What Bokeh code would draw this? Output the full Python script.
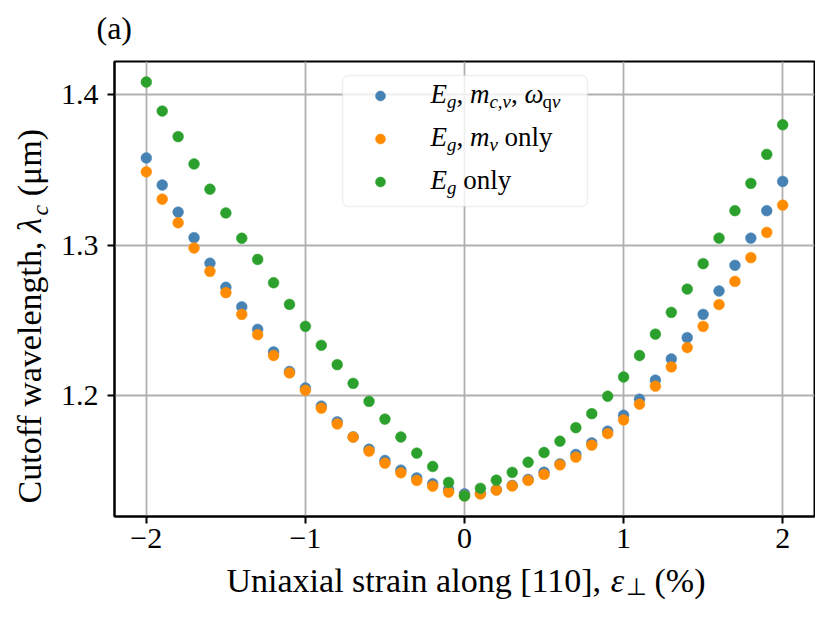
import math
from bokeh.plotting import figure
from bokeh.layouts import column, row
from bokeh.models import (Label, Legend, LegendItem, FixedTicker, Range1d,
                          ColumnDataSource, BoxAnnotation)
from bokeh.embed import file_html
from bokeh.resources import INLINE

# ---------------- data ----------------
strain = [-2.0, -1.9, -1.8, -1.7, -1.6, -1.5, -1.4, -1.3, -1.2, -1.1, -1.0,
          -0.9, -0.8, -0.7, -0.6, -0.5, -0.4, -0.3, -0.2, -0.1, 0.0,
          0.1, 0.2, 0.3, 0.4, 0.5, 0.6, 0.7, 0.8, 0.9, 1.0,
          1.1, 1.2, 1.3, 1.4, 1.5, 1.6, 1.7, 1.8, 1.9, 2.0]

lam_full = [1.358, 1.340, 1.322, 1.305, 1.288, 1.272, 1.259, 1.244, 1.229, 1.216, 1.205,
            1.193, 1.1825, 1.1725, 1.1643, 1.1568, 1.1504, 1.1452, 1.1413, 1.1375, 1.1346,
            1.1348, 1.1374, 1.1402, 1.1442, 1.149, 1.1545, 1.1608, 1.1685, 1.1763, 1.1869,
            1.1975, 1.2102, 1.2243, 1.2385, 1.254, 1.2695, 1.2866, 1.3047, 1.3229, 1.3424]

lam_mv = [1.3488, 1.3306, 1.3149, 1.2981, 1.2826, 1.2684, 1.254, 1.2405, 1.2266, 1.215, 1.2035,
          1.1916, 1.1811, 1.1723, 1.163, 1.155, 1.1486, 1.1435, 1.1397, 1.1357, 1.1333,
          1.1345, 1.1371, 1.1398, 1.1435, 1.1475, 1.1539, 1.159, 1.167, 1.1747, 1.1838,
          1.1942, 1.2062, 1.219, 1.2319, 1.246, 1.2605, 1.2759, 1.2917, 1.3085, 1.3266]

lam_eg = [1.4085, 1.3892, 1.3722, 1.354, 1.3372, 1.3214, 1.3046, 1.2905, 1.275, 1.2606, 1.246,
          1.2334, 1.2205, 1.2081, 1.1961, 1.1843, 1.1724, 1.1617, 1.1528, 1.1422, 1.1332,
          1.1383, 1.1437, 1.1489, 1.1556, 1.1621, 1.1696, 1.1786, 1.1879, 1.1995, 1.2123,
          1.2266, 1.2408, 1.2553, 1.2708, 1.2877, 1.3047, 1.3229, 1.3411, 1.3604, 1.3801]

x_ticks = [-2, -1, 0, 1, 2]
x_tick_labels = {-2: "\u22122", -1: "\u22121", 0: "0", 1: "1", 2: "2"}
y_ticks = [1.2, 1.3, 1.4]

FONT = "Liberation Serif"

# ---------------- layout sizes ----------------
TOTAL_W, TOTAL_H = 815, 603
TOP_H, BOT_H, LEFT_W = 50, 41, 56
MAIN_W, MAIN_H = TOTAL_W - LEFT_W, TOTAL_H - TOP_H - BOT_H


def no_align(f):
    if "frame_align" in f.properties():
        f.frame_align = False
    return f


def text_fig(w, h):
    f = figure(width=w, height=h, output_backend="svg", toolbar_location=None,
               x_range=Range1d(0, 1), y_range=Range1d(0, 1),
               x_axis_type=None, y_axis_type=None, min_border=0,
               min_border_left=0, min_border_right=0, min_border_top=0, min_border_bottom=0)
    f.outline_line_color = None
    f.background_fill_color = "white"
    f.border_fill_color = "white"
    return no_align(f)


top = text_fig(TOTAL_W, TOP_H)
left = text_fig(LEFT_W, MAIN_H)
bottom = text_fig(TOTAL_W, BOT_H)

# ---------------- main figure ----------------
p = figure(width=MAIN_W, height=MAIN_H, output_backend="svg", toolbar_location=None,
           x_range=Range1d(-2.2, 2.2), y_range=Range1d(1.11952, 1.42215),
           min_border_left=58, min_border_right=1, min_border_top=11, min_border_bottom=46)
no_align(p)
p.background_fill_color = "white"
p.border_fill_color = "white"
p.outline_line_color = "black"
p.outline_line_width = 2

p.xaxis.ticker = FixedTicker(ticks=x_ticks)
p.yaxis.ticker = FixedTicker(ticks=y_ticks)
p.xaxis.major_label_overrides = x_tick_labels
for ax in (p.xaxis, p.yaxis):
    ax.axis_line_color = "black"
    ax.axis_line_width = 2
    ax.major_tick_line_color = "black"
    ax.major_tick_line_width = 2
    ax.major_tick_out = 7
    ax.major_tick_in = 0
    ax.minor_tick_line_color = None
    ax.major_label_text_font = FONT
    ax.major_label_text_font_size = "30px"
    ax.major_label_text_color = "black"
p.xaxis.major_label_standoff = 5
p.yaxis.major_label_standoff = 9

p.grid.grid_line_color = "#b0b0b0"
p.grid.grid_line_width = 1.8

# legend frame (translucent white box with light border, behind the legend texts)
LX, LB, LW, LH = 228, 310, 245, 131
box = BoxAnnotation(left=LX, right=LX + LW, bottom=LB, top=LB + LH,
                    left_units="screen", right_units="screen",
                    bottom_units="screen", top_units="screen",
                    fill_color="white", fill_alpha=0.8,
                    line_color="#cccccc", line_width=1.5, level="underlay")
if "border_radius" in box.properties():
    box.border_radius = 6
p.add_layout(box)

src = ColumnDataSource(dict(x=strain, full=lam_full, mv=lam_mv, eg=lam_eg))
r1 = p.scatter("x", "full", source=src, size=10.8, fill_color="#4682b4", line_color="#4682b4", line_width=0.5)
r2 = p.scatter("x", "mv", source=src, size=10.8, fill_color="#ff8c00", line_color="#ff8c00", line_width=0.5)
r3 = p.scatter("x", "eg", source=src, size=10.8, fill_color="#2ca02c", line_color="#2ca02c", line_width=0.5)

legend = Legend(items=[LegendItem(label=" ", renderers=[r1]),
                       LegendItem(label=" ", renderers=[r2]),
                       LegendItem(label=" ", renderers=[r3])],
                location=(LX, LB + 2), padding=10, spacing=18, margin=0,
                glyph_width=56, glyph_height=25, label_standoff=23,
                label_width=146, label_height=25, label_text_font_size="8px",
                border_line_color="#cccccc", border_line_alpha=0.0,
                background_fill_alpha=0.0)
p.add_layout(legend)

# ---------------- rich text helpers ----------------
REG = {' ': 0.25, ',': 0.25, '.': 0.25, '(': 0.333, ')': 0.333, '[': 0.333, ']': 0.333,
       '%': 0.833, '0': 0.5, '1': 0.5, 'C': 0.667, 'U': 0.722, 'a': 0.444, 'c': 0.444,
       'e': 0.444, 'f': 0.333, 'g': 0.5, 'h': 0.5, 'i': 0.278, 'l': 0.278, 'm': 0.778,
       'n': 0.5, 'o': 0.5, 'q': 0.5, 'r': 0.333, 's': 0.389, 't': 0.278, 'u': 0.5,
       'v': 0.5, 'w': 0.722, 'x': 0.5, 'y': 0.5, '\u03bc': 0.55, '\u22a5': 0.85}
ITA = {'E': 0.611, 'g': 0.5, 'm': 0.722, 'c': 0.444, 'v': 0.444, ',': 0.25,
       '\u03c9': 0.667, '\u03bd': 0.444, '\u03bb': 0.5, '\u03b5': 0.44}


def text_w(text, italic):
    tbl = ITA if italic else REG
    return sum(tbl.get(ch, 0.5) for ch in text)


def runs_width(runs, size):
    return sum(text_w(r[0], r[1]) * (size * 0.7 if r[2] else size) for r in runs)


def add_runs(fig, runs, x0, yc, size, angle=0.0, level="annotation"):
    """Draw text runs; (x0, yc) = start of the line at the middle of the main font."""
    adv = 0.0
    for r in runs:
        text, italic, sub = r[0], r[1], r[2]
        sub_shift = r[3] if len(r) > 3 else 0.2
        s = size * 0.7 if sub else size
        down = (0.3375 * (size - s) + sub_shift * size) if sub else 0.0
        lead = len(text) - len(text.lstrip(" "))
        body = text.strip(" ")
        a0 = adv + lead * REG[" "] * s
        if angle == 0.0:
            x, y = x0 + a0, yc - down
        else:
            x, y = x0 + down, yc + a0
        fig.add_layout(Label(x=x, y=y, x_units="screen", y_units="screen", text=body,
                             text_font=FONT, text_font_size=f"{s:.1f}px",
                             text_font_style="italic" if italic else "normal",
                             text_align="left", text_baseline="middle",
                             angle=angle, text_color="black", level=level))
        adv += text_w(text, italic) * s
    return adv


# legend texts (frame coords of main plot)
LEG = 27
leg_rows = [
    [("E", True, False), ("g", True, True), (", ", False, False), ("m", True, False),
     ("c,v", True, True), (", ", False, False), ("\u03c9", True, False),
     ("q", False, True), ("\u03bd", True, True)],
    [("E", True, False), ("g", True, True), (", ", False, False), ("m", True, False),
     ("v", True, True), (" only", False, False)],
    [("E", True, False), ("g", True, True), (" only", False, False)],
]
for runs, yc in zip(leg_rows, [423, 380, 337]):
    add_runs(p, runs, 316, yc, LEG, level="overlay")

# x axis label (bottom strip: page y 562..603)
XL = 34
xl_runs = [("Uniaxial strain along [110], ", False, False), ("\u03b5", True, False),
           ("\u22a5", False, True, 0.1), (" (%)", False, False)]
add_runs(bottom, xl_runs, 465.5 - runs_width(xl_runs, XL) / 2, BOT_H - 18, XL)

# y axis label (left strip: page y 50..562, rotated)
yl_runs = [("Cutoff wavelength, ", False, False), ("\u03bb", True, False),
           ("c", True, True), (" (\u03bcm)", False, False)]
yl_center = (TOP_H + MAIN_H) - 315.5
add_runs(left, yl_runs, 29, yl_center - runs_width(yl_runs, XL) / 2, XL, angle=math.pi / 2)

# panel tag (top strip)
top.add_layout(Label(x=96, y=TOP_H - 27, x_units="screen", y_units="screen", text="(a)",
                     text_font=FONT, text_font_size="32px", text_align="left",
                     text_baseline="middle", text_color="black"))

layout = column(top, row(left, p, spacing=0), bottom, spacing=0)
open("out.html", "w").write(file_html(layout, INLINE))
